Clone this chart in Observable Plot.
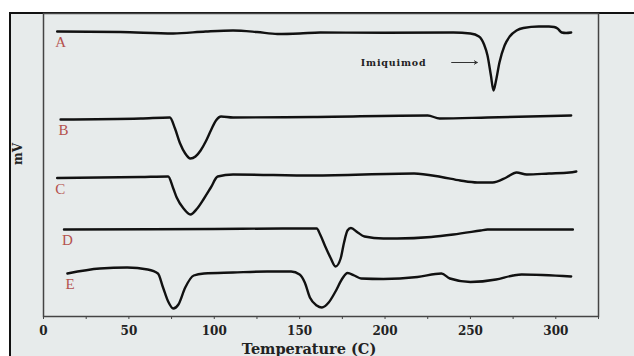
<!DOCTYPE html>
<html>
<head>
<meta charset="utf-8">
<script src="https://cdn.jsdelivr.net/npm/d3@7"></script>
<script src="https://cdn.jsdelivr.net/npm/@observablehq/plot@0.6"></script>
<style>
  html, body { margin: 0; padding: 0; background: #ffffff; width: 634px; height: 356px; overflow: hidden; }
  #fig { position: absolute; left: 9px; top: 12px; width: 640px; height: 360px;
         border-left: 2px solid #111; border-top: 2px solid #111; background: #e7ebeb; }
  #chart { position: absolute; left: 0; top: 0; }
</style>
</head>
<body>
<div id="fig"></div>
<div id="chart"></div>
<script>
// Temperature (°C) and signal (mV, arbitrary offset units)
const tempA = [8,45,76,95,111,125,137,150,162,200,240,250,255,258,260,262,263.5,265,267,270,273,277,281,290,296,299,301,303.5,306,309];
const mvA   = [285,284.5,283,285,286,284.5,282.5,283,284,283.7,284,283,280,272,261,241,226,236,254,271,280,286,288.5,290,290,289.5,288,284,283.5,284];

const tempB = [10,57,74,77,80,83,86,89,92,95,98,101,104,111,158,225,232,260,309];
const mvB   = [197,198,199,188,173,163,158,160,166,175,186,196,200,199,199.5,201,198,199,201];

const tempC = [8,57,73,76,78,82,86,90,94,98,102,111,158,217,233,244,254,263,271,277,283,296,308,312];
const mvC   = [138.5,139.5,140,128,119,108,102,108,118,129,140,142,141,143,139.5,136,134,134,139,144,142,143,144,145];

const tempD = [12,100,140,160,162,165,168,171,174,176,178,180,184,188,199,207,227,240,256,260,310];
const mvD   = [87,87.5,88,88,82,70,59,50,58,74,86,88.5,84,80,78,78,79.5,82,86,87,87];

const tempE = [14,33,49,61,67,70,73,76,79,83,88,94,111,131,145,150,153,156,160,163,167,171,175,178,182,186,199,219,233,238,250,265,275,280,309];
const mvE   = [43,48,49,47,43,29,15,8,12,29,41,43,44,45,45,42,34,19,11,9,14,25,38,43.5,41,38,37.5,39.5,43,38,34.5,37,41,42,40];

const seriesNames = ["A","B","C","D","E"];
const seriesTemps = [tempA, tempB, tempC, tempD, tempE];
const seriesMv    = [mvA, mvB, mvC, mvD, mvE];

const xTicks      = d3.range(0, 326, 25);
const xTickLabels = [0, 50, 100, 150, 200, 250, 300];
const xTitle = "Temperature (C)";
const yTitle = "mV";

const annotationText = ["Imiquimod"];
const annotationX = [205];
const annotationY = [254];
const arrowFrom = [239];
const arrowTo = [254];

const rows = seriesNames.flatMap((s, i) =>
  seriesTemps[i].map((t, j) => ({series: s, temp: t, mv: seriesMv[i][j]})));
const labels = seriesNames.map((s, i) => ({series: s, temp: seriesTemps[i][0], mv: seriesMv[i][0]}));
const annot = annotationText.map((t, i) => ({text: t, x: annotationX[i], y: annotationY[i], x1: arrowFrom[i], x2: arrowTo[i]}));

const serifBold = "'DejaVu Serif', serif";

const plot = Plot.plot({
  width: 634,
  height: 356,
  marginLeft: 43,
  marginRight: 36,
  marginTop: 13,
  marginBottom: 40,
  style: {background: "transparent", fontFamily: serifBold, fontWeight: "bold", fontSize: "12px", color: "#222"},
  x: {domain: [0, 325]},
  y: {domain: [0, 303], axis: null},
  marks: [
    Plot.frame({stroke: "#444", strokeWidth: 1.5}),
    Plot.axisX({ticks: xTicks, tickFormat: () => "", tickSize: 3, stroke: "#444"}),
    Plot.axisX({ticks: xTickLabels, tickSize: 0, tickPadding: 10, fontSize: 12, fontWeight: "bold", fill: "#222", fontFamily: serifBold}),
    Plot.text([xTitle], {frameAnchor: "bottom", dy: 37, dx: -12, fontSize: 14.5, fontWeight: "bold", fill: "#222", fontFamily: serifBold}),
    Plot.text([yTitle], {frameAnchor: "left", dx: -25, rotate: -90, fontSize: 12, fontWeight: "bold", fill: "#222", fontFamily: serifBold}),
    Plot.line(rows, {x: "temp", y: "mv", z: "series", stroke: "#111", strokeWidth: 2.4, curve: "monotone-x"}),
    Plot.text(labels, {x: "temp", y: "mv", text: "series", dy: 11, dx: -2, textAnchor: "start", fontSize: 15, fontWeight: "normal", fill: "#b5524e", fontFamily: "'Liberation Serif', serif"}),
    Plot.text(annot, {x: "x", y: "y", text: "text", fontSize: 9.5, fontWeight: "bold", fill: "#222", fontFamily: serifBold}),
    Plot.arrow(annot, {x1: "x1", x2: "x2", y1: "y", y2: "y", stroke: "#333", strokeWidth: 1, headLength: 5})
  ]
});
d3.select(plot).selectAll("text").filter(function() { return this.textContent === "Imiquimod"; })
  .style("letter-spacing", "0.8px");
document.getElementById("chart").appendChild(plot);
</script>
</body>
</html>
